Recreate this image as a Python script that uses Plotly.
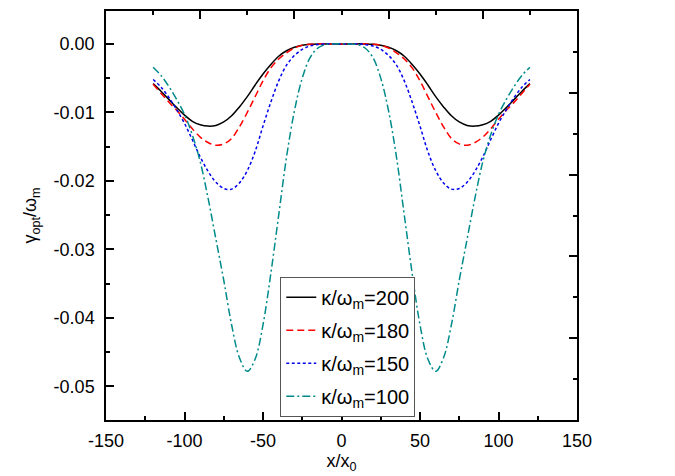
import plotly.graph_objects as go

x_vals = [-120, -115, -110, -105, -100, -95, -90, -85, -80, -75, -70, -65, -60, -55, -50, -45, -40, -35, -30, -25, -20, -15, -10, -5,
          0, 5, 10, 15, 20, 25, 30, 35, 40, 45, 50, 55, 60, 65, 70, 75, 80, 85, 90, 95, 100, 105, 110, 115, 120]

k200 = [-0.0058, -0.0069, -0.0081, -0.0093, -0.0104, -0.0113, -0.0118, -0.0120, -0.0119, -0.0114, -0.0105, -0.0092, -0.0077,
        -0.0060, -0.0044, -0.0030, -0.0018, -0.0010, -0.0005, -0.0002, -0.00005, 0.0, 0.0, 0.0,
        0.0,
        0.0, 0.0, 0.0, -0.00005, -0.0002, -0.0005, -0.0010, -0.0018, -0.0030, -0.0044, -0.0060, -0.0077, -0.0092,
        -0.0105, -0.0114, -0.0119, -0.0120, -0.0118, -0.0113, -0.0104, -0.0093, -0.0081, -0.0069, -0.0058]

k180 = [-0.0059, -0.0072, -0.0085, -0.0097, -0.0110, -0.0124, -0.0136, -0.0144, -0.0148, -0.0146, -0.0138, -0.0121, -0.0100,
        -0.0077, -0.0054, -0.0035, -0.0022, -0.0013, -0.0006, -0.0002, -0.00005, 0.0, 0.0, 0.0,
        0.0,
        0.0, 0.0, 0.0, -0.00005, -0.0002, -0.0006, -0.0013, -0.0022, -0.0035, -0.0054, -0.0077, -0.0100, -0.0121,
        -0.0138, -0.0146, -0.0148, -0.0144, -0.0136, -0.0124, -0.0110, -0.0097, -0.0085, -0.0072, -0.0059]

k150 = [-0.0052, -0.0063, -0.0078, -0.0096, -0.0116, -0.0140, -0.0165, -0.0186, -0.0202, -0.0211, -0.0212, -0.0203, -0.0185,
        -0.0157, -0.0120, -0.0085, -0.0054, -0.0031, -0.0017, -0.0008, -0.0003, -0.0001, 0.0, 0.0,
        0.0,
        0.0, 0.0, -0.0001, -0.0003, -0.0008, -0.0017, -0.0031, -0.0054, -0.0085, -0.0120, -0.0157, -0.0185, -0.0203,
        -0.0212, -0.0211, -0.0202, -0.0186, -0.0165, -0.0140, -0.0116, -0.0096, -0.0078, -0.0063, -0.0052]

k100 = [-0.0034, -0.0046, -0.0062, -0.0081, -0.0103, -0.0133, -0.0172, -0.0225, -0.0285, -0.0345, -0.0410, -0.0458, -0.0478,
        -0.0460, -0.0410, -0.0335, -0.0250, -0.0165, -0.0098, -0.0050, -0.0020, -0.0006, -0.0001, 0.0,
        0.0,
        0.0, -0.0001, -0.0006, -0.0020, -0.0050, -0.0098, -0.0165, -0.0250, -0.0335, -0.0410, -0.0460, -0.0478, -0.0458,
        -0.0410, -0.0345, -0.0285, -0.0225, -0.0172, -0.0133, -0.0103, -0.0081, -0.0062, -0.0046, -0.0034]

series_names = ["κ/ω<sub>m</sub>=200", "κ/ω<sub>m</sub>=180", "κ/ω<sub>m</sub>=150", "κ/ω<sub>m</sub>=100"]

x_ticks = [-150, -100, -50, 0, 50, 100, 150]
x_ticktext = ["-150", "-100", "-50", "0", "50", "100", "150"]
y_ticks = [0.0, -0.01, -0.02, -0.03, -0.04, -0.05]
y_ticktext = ["0.00", "-0.01", "-0.02", "-0.03", "-0.04", "-0.05"]

FONT = "Liberation Sans, Arial, sans-serif"

styles = [
    dict(color="#000000", dash="solid"),
    dict(color="#ff0000", dash="7px,4px"),
    dict(color="#0000ee", dash="3px,2.5px"),
    dict(color="#008b8b", dash="8px,3px,2px,3px"),
]

fig = go.Figure()
for i, (name, ys, st) in enumerate(zip(series_names, [k200, k180, k150, k100], styles)):
    fig.add_trace(go.Scatter(
        x=x_vals, y=ys, mode="lines", name=name, legendgroup=f"g{i}",
        line=dict(color=st["color"], dash=st["dash"], width=1.5, shape="spline", smoothing=1.0),
    ))

# trace that activates the secondary (top/right) tick axes
fig.add_trace(go.Scatter(x=[None], y=[None], xaxis="x2", yaxis="y2", showlegend=False, hoverinfo="skip"))

tick_common = dict(
    ticks="inside", ticklen=8, tickwidth=1.5, tickcolor="black",
    showgrid=False, zeroline=False,
)

fig.update_layout(
    width=675, height=476,
    margin=dict(l=98, r=106, t=1, b=64),
    paper_bgcolor="white", plot_bgcolor="white",
    font=dict(family=FONT, size=18, color="black"),
    xaxis=dict(
        range=[-150, 150], tickvals=x_ticks, ticktext=x_ticktext,
        showline=True, mirror=True, linecolor="black", linewidth=1.5,
        minor=dict(tick0=0, dtick=25, ticks="inside", ticklen=4, tickwidth=1.5, tickcolor="black"),
        title=dict(text="x/x<sub>0</sub>", standoff=3, font=dict(size=18)),
        ticklabelstandoff=4,
        **tick_common,
    ),
    yaxis=dict(
        range=[-0.0549, 0.0048], tickvals=y_ticks, ticktext=y_ticktext,
        showline=True, mirror=True, linecolor="black", linewidth=1.5,
        minor=dict(tick0=0, dtick=0.005, ticks="inside", ticklen=4, tickwidth=1.5, tickcolor="black"),
        title=dict(text="γ<sub>opt</sub>/ω<sub>m</sub>", standoff=12, font=dict(size=18)),
        ticklabelstandoff=6,
        **tick_common,
    ),
    xaxis2=dict(
        overlaying="x", side="top", anchor="y", range=[0, 10],
        tickvals=[0, 2, 4, 6, 8, 10], showticklabels=False, showline=False,
        minor=dict(tick0=0, dtick=1, ticks="inside", ticklen=4, tickwidth=1.5, tickcolor="black"),
        **tick_common,
    ),
    yaxis2=dict(
        overlaying="y", side="right", anchor="x", range=[0, 10],
        tickvals=[0, 2, 4, 6, 8, 10], showticklabels=False, showline=False,
        minor=dict(tick0=0, dtick=1, ticks="inside", ticklen=4, tickwidth=1.5, tickcolor="black"),
        **tick_common,
    ),
    legend=dict(
        x=0.37, y=0.350, xanchor="left", yanchor="top",
        bgcolor="white", bordercolor="#555555", borderwidth=1,
        font=dict(family=FONT, size=20), tracegroupgap=4,
    ),
    showlegend=True,
)

fig.write_html("out.html")
